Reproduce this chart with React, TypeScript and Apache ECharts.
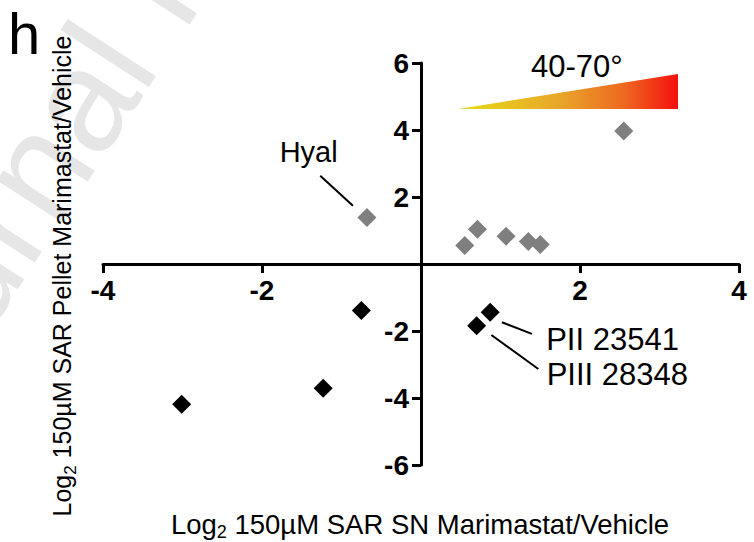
import React, { useEffect, useRef } from 'react';
import * as echarts from 'echarts';

// Log2 ratios (x: supernatant, y: pellet), Marimastat vs vehicle
const enrichedPoints: [number, number][] = [
  [-0.68, 1.39],
  [0.55, 0.55],
  [0.71, 1.04],
  [1.07, 0.83],
  [1.35, 0.67],
  [1.5, 0.58],
  [2.55, 3.97],
];
const depletedPoints: [number, number][] = [
  [-0.75, -1.39],
  [-1.23, -3.71],
  [-3.01, -4.19],
  [0.7, -1.84],
  [0.87, -1.44],
];

// named points: which series, which index
const callouts = [
  { name: 'Hyal', series: 'enriched', index: 0 },
  { name: 'PII 23541', series: 'depleted', index: 4 },
  { name: 'PIII 28348', series: 'depleted', index: 3 },
];

const xRange = { min: -4, max: 4, interval: 2 };
const yRange = { min: -6, max: 6, interval: 2 };

const xTitleMain = ' 150µM SAR SN Marimastat/Vehicle';
const yTitleMain = ' 150µM SAR Pellet Marimastat/Vehicle';
const angleLabel = '40-70°';
const panelLetter = 'h';
const watermark = 'Journal Pre-proof';

const FONT = '"Liberation Sans", Arial, Helvetica, sans-serif';

const GRID = { left: 103, right: 15, top: 63, bottom: 77 };
const W = 754;
const H = 542;

const tickLabel = (v: number) => (v === 0 ? '' : String(v));

export default function App() {
  const ref = useRef<HTMLDivElement>(null);

  useEffect(() => {
    if (!ref.current) return;
    const chart = echarts.init(ref.current, undefined, { renderer: 'svg' });

    // axes cross at the origin: shift each axis from its grid edge to the zero line
    const gridW = W - GRID.left - GRID.right;
    const gridH = H - GRID.top - GRID.bottom;
    const yAxisOffset = -gridW * ((0 - xRange.min) / (xRange.max - xRange.min));
    const xAxisOffset = -gridH * ((0 - yRange.min) / (yRange.max - yRange.min));

    const axisCommon = {
      type: 'value' as const,
      splitLine: { show: false },
      axisLine: { onZero: false, lineStyle: { color: '#000', width: 3 } },
      axisTick: { show: true, inside: false, length: 9, lineStyle: { color: '#000', width: 3 } },
    };
    const labelCommon = {
      margin: 12,
      fontFamily: FONT,
      fontWeight: 'bold' as const,
      fontSize: 28,
      color: '#000',
      formatter: tickLabel,
    };

    chart.setOption({
      animation: false,
      backgroundColor: '#fff',
      grid: GRID,
      xAxis: {
        ...axisCommon,
        ...xRange,
        position: 'bottom',
        offset: xAxisOffset,
        axisLabel: labelCommon,
      },
      yAxis: {
        ...axisCommon,
        ...yRange,
        position: 'left',
        offset: yAxisOffset,
        axisLabel: labelCommon,
      },
      series: [
        {
          id: 'enriched',
          type: 'scatter',
          symbol: 'diamond',
          symbolSize: 19,
          itemStyle: { color: '#7f7f7f', opacity: 1 },
          data: enrichedPoints,
          z: 5,
        },
        {
          id: 'depleted',
          type: 'scatter',
          symbol: 'diamond',
          symbolSize: 19,
          itemStyle: { color: '#000', opacity: 1 },
          data: depletedPoints,
          z: 5,
        },
      ],
    });

    const px = (p: [number, number]) => chart.convertToPixel({ gridIndex: 0 }, p) as number[];

    // leader line and label offsets relative to each labelled point
    const calloutLayout: Record<string, { line: number[]; text: number[]; size: number }> = {
      Hyal: { line: [-46.7, -41.6, -14, -11.6], text: [-87.3, -65], size: 29 },
      'PII 23541': { line: [11.7, 10, 41.7, 21.7], text: [56, 27.7], size: 31 },
      'PIII 28348': { line: [14.7, 9.3, 61.7, 43.3], text: [70, 49.3], size: 31 },
    };

    const calloutEls: any[] = [];
    callouts.forEach((c) => {
      const src = c.series === 'enriched' ? enrichedPoints : depletedPoints;
      const [cx, cy] = px(src[c.index]);
      const lay = calloutLayout[c.name];
      calloutEls.push({
        type: 'line',
        shape: { x1: cx + lay.line[0], y1: cy + lay.line[1], x2: cx + lay.line[2], y2: cy + lay.line[3] },
        style: { stroke: '#000', lineWidth: 2 },
        z: 10,
      });
      calloutEls.push({
        type: 'text',
        x: cx + lay.text[0],
        y: cy + lay.text[1],
        style: {
          text: c.name,
          font: `${lay.size}px ${FONT}`,
          fill: '#000',
          align: 'left',
          verticalAlign: 'middle',
        },
        z: 10,
      });
    });

    const titleRich = {
      a: { fontSize: 27.5, fontFamily: FONT, color: '#000', lineHeight: 34 },
      s: { fontSize: 18, fontFamily: FONT, color: '#000', lineHeight: 17, verticalAlign: 'bottom' },
    };

    const rot = (57 * Math.PI) / 180;

    chart.setOption({
      graphic: [
        {
          type: 'text',
          x: -140,
          y: 440,
          rotation: rot,
          style: {
            text: watermark,
            font: `145px ${FONT}`,
            fill: '#e6e6e6',
            align: 'left',
            verticalAlign: 'middle',
          },
          z: -10,
          silent: true,
        },
        {
          type: 'text',
          x: 8,
          y: 33,
          style: { text: panelLetter, font: `58px ${FONT}`, fill: '#000', align: 'left', verticalAlign: 'middle' },
        },
        {
          type: 'polygon',
          shape: { points: [[458, 109], [678, 74], [678, 109]] },
          style: {
            fill: new echarts.graphic.LinearGradient(0, 0, 1, 0, [
              { offset: 0, color: '#e6dc14' },
              { offset: 0.45, color: '#e8a82a' },
              { offset: 0.75, color: '#ee6a20' },
              { offset: 1, color: '#f41010' },
            ]),
          },
        },
        {
          type: 'text',
          x: 531,
          y: 66,
          style: { text: angleLabel, font: `31px ${FONT}`, fill: '#000', align: 'left', verticalAlign: 'middle' },
        },
        {
          type: 'text',
          x: 420,
          y: 524,
          style: {
            text: `{a|Log}{s|2}{a|${xTitleMain}}`,
            rich: titleRich,
            align: 'center',
            verticalAlign: 'middle',
          },
        },
        {
          type: 'text',
          x: 62,
          y: 276,
          rotation: Math.PI / 2,
          style: {
            text: `{a|Log}{s|2}{a|${yTitleMain}}`,
            rich: { ...titleRich, a: { ...titleRich.a, fontSize: 25 }, s: { ...titleRich.s, fontSize: 17 } },
            align: 'center',
            verticalAlign: 'middle',
          },
        },
        ...calloutEls,
      ],
    });

    return () => chart.dispose();
  }, []);

  return (
    <div
      ref={ref}
      style={{ position: 'fixed', left: 0, top: 0, width: W, height: H, background: '#fff' }}
    />
  );
}
